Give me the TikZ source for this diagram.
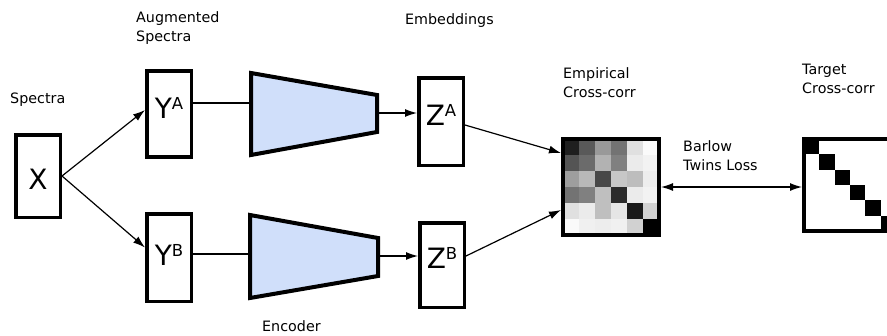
\documentclass[tikz,border=0pt]{standalone}
\usepackage{fontspec}
\setmainfont{DejaVu Sans}
\usetikzlibrary{arrows.meta}
\definecolor{encblue}{RGB}{208,223,250}
\begin{document}
\begin{tikzpicture}[x=1pt,y=-1pt,
  lbl/.style={font=\fontsize{14.3}{19}\selectfont, align=left, anchor=west, inner sep=0pt},
  vbox/.style={draw, line width=3.5pt, minimum width=44.5pt, minimum height=86pt, inner sep=0pt},
  letter/.style={font=\fontsize{28}{28}\selectfont, anchor=base, inner sep=0pt},
  arr/.style={line width=1.2pt, -{Latex[length=12pt,width=8pt]}},
  enc/.style={draw, line width=4pt, fill=encblue, line join=miter},
  holder/.style={minimum size=100pt, inner sep=0pt, outer sep=0pt}]
\useasboundingbox (0,0) rectangle (887,335);
\clip (0,0) rectangle (887,335);
\newcommand{\supl}[1]{\raisebox{9pt}{\fontsize{16.5}{16}\selectfont #1}}

% labels
\node[lbl] (lspec) at (10,100) {Spectra};
\node[lbl] (laug) at (136,28.5) {Augmented\\Spectra};
\node[lbl] (lemb) at (405,21) {Embeddings};
\node[lbl] (lemp) at (563,82.5) {Empirical\\Cross-corr};
\node[lbl] (ltgt) at (802,79) {Target\\Cross-corr};
\node[lbl] (lbar) at (683,156) {Barlow\\Twins Loss};
\node[lbl] (lenc) at (262,326) {Encoder};

% boxes
\node[vbox, minimum height=82.5pt] (X) at (38,176) {};
\node[vbox] (YA) at (169,114) {};
\node[vbox, minimum height=87.5pt] (YB) at (169,257.5) {};
\node[vbox, minimum height=87.5pt] (ZA) at (441,121.5) {};
\node[vbox, minimum height=84.5pt] (ZB) at (442,265) {};

\node[letter] (tX) at (38,189) {X};
\node[letter] (tYA) at (169,118) {Y\supl{A}};
\node[letter] (tYB) at (169,265) {Y\supl{B}};
\node[letter] (tZA) at (441,125) {Z\supl{A}};
\node[letter] (tZB) at (442,268) {Z\supl{B}};

% encoders
\draw[enc] (251,73) coordinate (eAtl) -- (377,95) -- (377,132) -- (251,155) -- cycle;
\draw[enc] (250,215) coordinate (eBtl) -- (378,238) -- (378,276) -- (250,298) -- cycle;
\coordinate (eAin) at (251,103);
\coordinate (eAout) at (377,113);
\coordinate (eBin) at (250,254);
\coordinate (eBout) at (378,256);

% matrices holders
\node[holder] (emp) at (611,187) {};
\node[holder] (tgt) at (852,187) {};

% empirical matrix cells
\foreach \r/\vals in {0/{12,35,60,45,88,98},
                      1/{33,42,70,50,92,95},
                      2/{62,72,28,78,74,93},
                      3/{45,50,75,17,92,95},
                      4/{88,92,75,90,10,82},
                      5/{98,94,93,94,82,0}}{
  \foreach \v [count=\c from 0] in \vals {
    \fill[fill={rgb,100:red,\v;green,\v;blue,\v}] (563+16*\c,139+16*\r) rectangle +(16,16);
  }
}
\draw[line width=4pt] (563,139) rectangle (659,235);

% target matrix
\foreach \k in {0,...,5} {
  \fill (804+15.3*\k,139+15.3*\k) rectangle +(15.3,15.3);
}
\draw[line width=4pt] (804,139) rectangle (910,231);

% connectors
\draw[arr] (X.east) -- ([yshift=4pt]YA.west);
\draw[arr] (X.east) -- ([yshift=10pt]YB.west);
\draw[line width=1.2pt] (YA.east |- eAin) -- (eAin);
\draw[line width=1.2pt] (YB.east |- eBin) -- (eBin);
\draw[arr] (eAout) -- (ZA.west |- eAout);
\draw[arr] (eBout) -- (ZB.west |- eBout);
\draw[arr] ([yshift=-3.5pt]ZA.east) -- ([yshift=34pt]emp.west);
\draw[arr] ([yshift=9pt]ZB.east) -- ([yshift=-23pt]emp.west);
\draw[line width=1.2pt, {Latex[length=12pt,width=8pt]}-{Latex[length=12pt,width=8pt]}] (emp.east) -- (tgt.west);
\end{tikzpicture}
\end{document}
